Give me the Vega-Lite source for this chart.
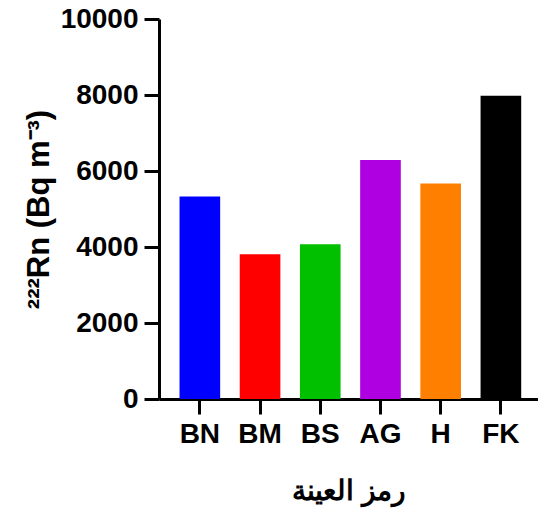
{
  "$schema": "https://vega.github.io/schema/vega-lite/v6.json",
  "autosize": "none",
  "width": 379,
  "height": 380,
  "padding": {"left": 159, "top": 19, "right": 0, "bottom": 110},
  "background": "white",
  "data": {
    "values": [
      {"sample": "BN", "radon": 5330},
      {"sample": "BM", "radon": 3810},
      {"sample": "BS", "radon": 4070},
      {"sample": "AG", "radon": 6290},
      {"sample": "H", "radon": 5670},
      {"sample": "FK", "radon": 7980}
    ]
  },
  "config": {
    "view": {"stroke": null},
    "font": "Liberation Sans",
    "axis": {
      "grid": false,
      "domainColor": "black",
      "domainWidth": 3,
      "tickColor": "black",
      "tickWidth": 3,
      "tickSize": 15,
      "labelColor": "black",
      "labelFont": "Liberation Sans",
      "labelFontSize": 28,
      "labelFontWeight": "bold",
      "titleColor": "black",
      "titleFont": "Liberation Sans",
      "titleFontWeight": "bold"
    }
  },
  "mark": {"type": "bar", "clip": false},
  "encoding": {
    "x": {
      "field": "sample",
      "type": "nominal",
      "sort": null,
      "scale": {"paddingInner": 0.325, "paddingOuter": 0.31, "align": 0.55},
      "axis": {
        "title": "رمز العينة",
        "titleFontSize": 28,
        "titlePadding": 29,
        "labelAngle": 0,
        "labelPadding": 6
      }
    },
    "y": {
      "field": "radon",
      "type": "quantitative",
      "scale": {"domain": [0, 10000], "nice": false},
      "axis": {
        "title": "²²²Rn (Bq m⁻³)",
        "titleFontSize": 31,
        "titlePadding": 5,
        "values": [0, 2000, 4000, 6000, 8000, 10000],
        "labelPadding": 6,
        "format": "d"
      }
    },
    "color": {
      "field": "sample",
      "type": "nominal",
      "sort": null,
      "scale": {
        "domain": ["BN", "BM", "BS", "AG", "H", "FK"],
        "range": ["#0000FF", "#FF0000", "#00C000", "#AE00E0", "#FF8000", "#000000"]
      },
      "legend": null
    }
  }
}
